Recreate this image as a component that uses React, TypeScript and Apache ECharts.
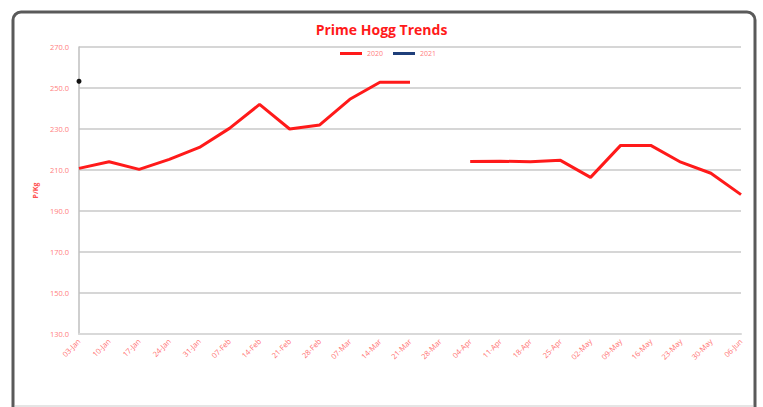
import React, { useEffect, useRef } from "react";
import * as echarts from "echarts";

const categories = [
  "03-Jan", "10-Jan", "17-Jan", "24-Jan", "31-Jan", "07-Feb", "14-Feb", "21-Feb",
  "28-Feb", "07-Mar", "14-Mar", "21-Mar", "28-Mar", "04-Apr", "11-Apr", "18-Apr",
  "25-Apr", "02-May", "09-May", "16-May", "23-May", "30-May", "06-Jun",
];

const values2020: (number | null)[] = [
  210.8, 214, 210.3, 215.2, 221, 230.3, 242, 230, 232, 244.5, 252.8, 252.8, null,
  214.2, 214.3, 214, 214.7, 206.4, 222, 222, 213.8, 208.4, 198,
];

const values2021: (number | null)[] = [
  253.3, null, null, null, null, null, null, null, null, null, null, null, null,
  null, null, null, null, null, null, null, null, null, null,
];

const yTicks = { min: 130, max: 270, interval: 20 };

export default function App() {
  const ref = useRef<HTMLDivElement>(null);
  useEffect(() => {
    if (!ref.current) return;
    const chart = echarts.init(ref.current, null, { renderer: "svg" });
    chart.setOption({
      animation: false,
      backgroundColor: "#ffffff",
      textStyle: { fontFamily: "Open Sans" },
      title: {
        text: "Prime Hogg Trends",
        left: "center",
        top: 17,
        textStyle: { color: "#ff1a1a", fontSize: 14, fontWeight: "bold", fontFamily: "Open Sans" },
      },
      legend: {
        top: 45,
        left: 335,
        itemWidth: 22,
        itemHeight: 3,
        itemGap: 10,
        icon: "rect",
        textStyle: { color: "#ff8080", fontSize: 7 },
        data: [
          { name: "2020", itemStyle: { color: "#ff1a1a" } },
          { name: "2021", itemStyle: { color: "#1f3f7a" } },
        ],
      },
      graphic: [
        {
          type: "rect",
          shape: { x: 13, y: 12, width: 742, height: 404, r: 8 },
          style: { fill: "none", stroke: "#5a5a5a", lineWidth: 3 },
          silent: true,
        },
        {
          type: "line",
          shape: { x1: 15, y1: 406, x2: 753, y2: 406 },
          style: { stroke: "#dcdcdc", lineWidth: 1.5 },
          silent: true,
        },
      ],
      grid: { left: 79, right: 22, top: 47, bottom: 73, containLabel: false },
      xAxis: {
        type: "category",
        data: categories,
        boundaryGap: false,
        axisLine: { show: true, lineStyle: { color: "#d9d9d9", width: 2 } },
        axisTick: { show: false },
        axisLabel: {
          rotate: 45,
          color: "#ff7070",
          fontSize: 7.5,
          interval: 0,
          margin: 6,
        },
        splitLine: { show: false },
      },
      yAxis: {
        type: "value",
        min: yTicks.min,
        max: yTicks.max,
        interval: yTicks.interval,
        name: "P/Kg",
        nameLocation: "middle",
        nameGap: 40,
        nameTextStyle: { color: "#ff5050", fontSize: 7, fontWeight: "bold" },
        axisLine: { show: true, lineStyle: { color: "#bfbfbf", width: 1.5 } },
        axisTick: { show: false },
        axisLabel: {
          color: "#ff8080",
          fontSize: 7.5,
          margin: 10,
          formatter: (v: number) => v.toFixed(1),
        },
        splitLine: { show: true, lineStyle: { color: "#c8c8c8", width: 1.5 } },
      },
      series: [
        {
          name: "2020",
          type: "line",
          data: values2020,
          connectNulls: false,
          showSymbol: false,
          symbol: "none",
          lineStyle: { color: "#ff1a1a", width: 3 },
          itemStyle: { color: "#ff1a1a" },
        },
        {
          name: "2021",
          type: "line",
          data: values2021,
          showSymbol: true,
          symbol: "circle",
          symbolSize: 5,
          lineStyle: { color: "#1f3f7a", width: 3 },
          itemStyle: { color: "#111111" },
        },
      ],
    });
    return () => chart.dispose();
  }, []);
  return <div ref={ref} style={{ width: 763, height: 407, position: "fixed", left: 0, top: 0 }} />;
}
